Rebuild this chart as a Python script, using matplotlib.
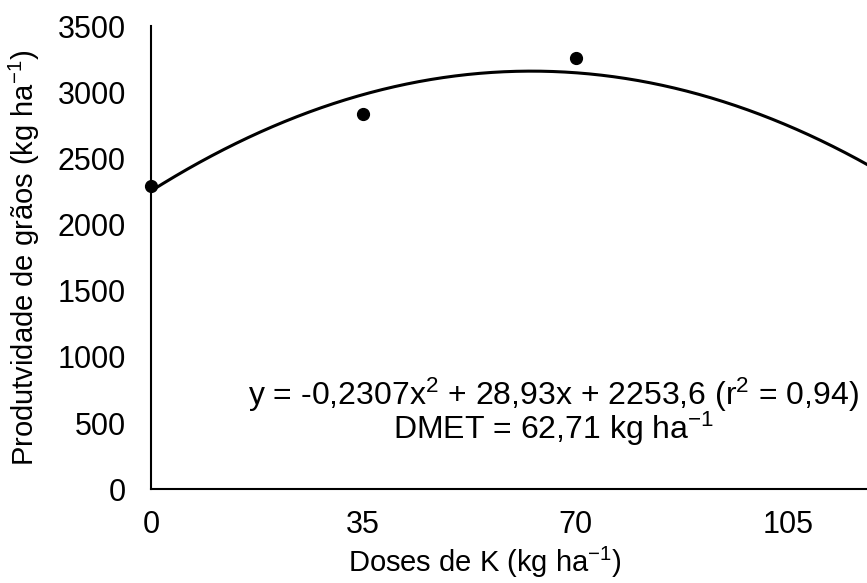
import matplotlib.pyplot as plt
import numpy as np

plt.rcParams['font.family'] = ['Liberation Sans', 'DejaVu Sans']
plt.rcParams['mathtext.fontset'] = 'custom'
plt.rcParams['mathtext.rm'] = 'Liberation Sans'
plt.rcParams['mathtext.it'] = 'Liberation Sans'

#--- Data ---#

# Doses of K and observed grain yield
doses = [0, 35, 70]
produtividade = [2290, 2835, 3258]
# Quadratic fit coefficients (a, b, c)
coef = [-0.2307, 28.93, 2253.6]
xticks = [0, 35, 70, 105]
yticks = [0, 500, 1000, 1500, 2000, 2500, 3000, 3500]

#--- Plot ---#

fs = 22
fig = plt.figure(figsize=(8.67, 5.83), dpi=100)
ax = fig.add_axes([0.174, 0.161, 0.826, 0.794])

xfit = np.linspace(0, 120, 300)
ax.plot(xfit, np.polyval(coef, xfit), color='black', lw=2.2, zorder=2)
ax.plot(doses, produtividade, 'o', color='black', ms=8.5, zorder=3, clip_on=False)

ax.set_xlim(0, 118)
ax.set_ylim(0, 3500)
ax.set_xticks(xticks)
ax.set_yticks(yticks)
ax.tick_params(length=0, labelsize=fs)
ax.tick_params(axis='x', pad=15)
ax.tick_params(axis='y', pad=18)

for s in ['top', 'right']:
    ax.spines[s].set_visible(False)
for s in ['left', 'bottom']:
    ax.spines[s].set_linewidth(1.5)

ax.set_xlabel(r'Doses de K (kg ha$^{\mathregular{-1}}$)', fontsize=21)
ax.set_ylabel(r'Produtvidade de grãos (kg ha$^{\mathregular{-1}}$)', fontsize=21)
ax.xaxis.set_label_coords(0.466, -0.12)
ax.yaxis.set_label_coords(-0.152, 0.5)

ax.text(0.562, 0.167,
        r'y = -0,2307x$^{\mathregular{2}}$ + 28,93x + 2253,6 (r$^{\mathregular{2}}$ = 0,94)' '\n'
        r'DMET = 62,71 kg ha$^{\mathregular{-1}}$',
        transform=ax.transAxes, ha='center', va='center', multialignment='center',
        fontsize=23, linespacing=0.88)

plt.savefig('out.png', dpi=100)
